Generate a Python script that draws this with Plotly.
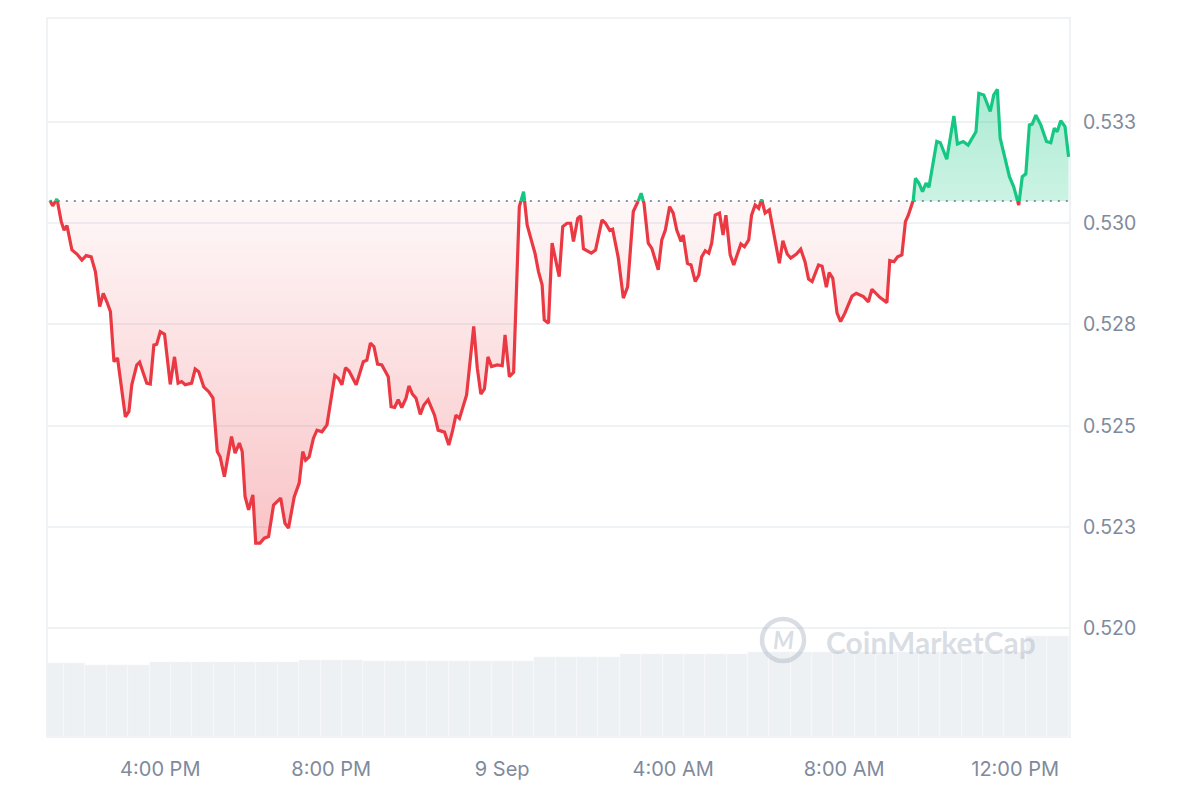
import numpy as np
import pandas as pd
import plotly.graph_objects as go

# ---------------- data ----------------
START = pd.Timestamp("2024-09-08 13:00")
# minutes after START for each price sample
minutes = [
    25, 29, 35, 41, 45, 49, 56, 63, 70, 76,
    83, 89, 95, 100, 105, 110, 115, 120, 131, 136,
    140, 147, 151, 161, 166, 171, 175, 180, 186, 194,
    200, 205, 210, 215, 224, 229, 234, 241, 248, 254,
    260, 264, 270, 280, 285, 291, 295, 299, 304, 310,
    314, 320, 326, 332, 339, 349, 355, 360, 368, 375,
    380, 384, 389, 395, 400, 407, 414, 425, 430, 435,
    440, 445, 455, 465, 470, 475, 480, 485, 491, 500,
    504, 509, 514, 519, 525, 529, 534, 539, 545, 550,
    556, 565, 570, 579, 585, 590, 595, 600, 610, 620,
    625, 630, 635, 640, 645, 653, 660, 664, 670, 676,
    684, 690, 695, 702, 706, 711, 716, 719, 725, 730,
    734, 740, 745, 751, 756, 760, 766, 770, 774, 785,
    791, 800, 805, 811, 815, 823, 830, 836, 844, 850,
    855, 859, 865, 870, 879, 884, 889, 895, 900, 905,
    911, 914, 920, 925, 931, 936, 940, 945, 950, 954,
    959, 965, 970, 974, 980, 985, 995, 1000, 1006, 1010,
    1015, 1020, 1024, 1029, 1035, 1042, 1046, 1049, 1054, 1060,
    1065, 1073, 1079, 1085, 1090, 1095, 1104, 1109, 1115, 1119,
    1124, 1130, 1135, 1141, 1151, 1157, 1167, 1174, 1179, 1190,
    1200, 1204, 1210, 1215, 1221, 1226, 1230, 1237, 1240, 1245,
    1250, 1255, 1259, 1270, 1275, 1284, 1294, 1299, 1307, 1314,
    1325, 1329, 1336, 1345, 1350, 1355, 1359, 1366, 1372, 1378,
    1385, 1390, 1395, 1400, 1404, 1409, 1416, 1424, 1430, 1435,
    1439, 1444, 1450, 1455,
]
prices = [
    0.53057, 0.53043, 0.53060, 0.53004, 0.52983, 0.52994, 0.52934, 0.52924, 0.52909, 0.52920,
    0.52917, 0.52880, 0.52794, 0.52827, 0.52806, 0.52782, 0.52658, 0.52667, 0.52522, 0.52535,
    0.52601, 0.52650, 0.52657, 0.52605, 0.52603, 0.52699, 0.52701, 0.52732, 0.52726, 0.52602,
    0.52670, 0.52605, 0.52609, 0.52601, 0.52605, 0.52640, 0.52633, 0.52596, 0.52584, 0.52568,
    0.52436, 0.52423, 0.52374, 0.52473, 0.52432, 0.52457, 0.52436, 0.52325, 0.52292, 0.52329,
    0.52210, 0.52210, 0.52222, 0.52226, 0.52304, 0.52321, 0.52259, 0.52247, 0.52324, 0.52358,
    0.52436, 0.52415, 0.52423, 0.52469, 0.52489, 0.52485, 0.52502, 0.52624, 0.52617, 0.52601,
    0.52643, 0.52635, 0.52601, 0.52658, 0.52662, 0.52704, 0.52695, 0.52652, 0.52650, 0.52621,
    0.52547, 0.52545, 0.52564, 0.52545, 0.52568, 0.52598, 0.52578, 0.52568, 0.52528, 0.52551,
    0.52564, 0.52526, 0.52489, 0.52484, 0.52452, 0.52485, 0.52526, 0.52518, 0.52576, 0.52745,
    0.52642, 0.52578, 0.52591, 0.52670, 0.52646, 0.52650, 0.52648, 0.52724, 0.52621, 0.52632,
    0.53041, 0.53078, 0.52996, 0.52951, 0.52926, 0.52880, 0.52848, 0.52761, 0.52753, 0.52951,
    0.52914, 0.52868, 0.52992, 0.53000, 0.53000, 0.52955, 0.53012, 0.53018, 0.52937, 0.52926,
    0.52934, 0.53008, 0.53000, 0.52982, 0.52985, 0.52914, 0.52815, 0.52843, 0.53029, 0.53051,
    0.53074, 0.53049, 0.52951, 0.52938, 0.52885, 0.52959, 0.52983, 0.53041, 0.53025, 0.52983,
    0.52955, 0.52971, 0.52901, 0.52897, 0.52856, 0.52872, 0.52917, 0.52932, 0.52926, 0.52951,
    0.53020, 0.53025, 0.52971, 0.53020, 0.52922, 0.52897, 0.52949, 0.52942, 0.52959, 0.53020,
    0.53045, 0.53037, 0.53059, 0.53025, 0.53033, 0.52963, 0.52922, 0.52901, 0.52957, 0.52924,
    0.52914, 0.52924, 0.52936, 0.52905, 0.52862, 0.52856, 0.52897, 0.52894, 0.52842, 0.52878,
    0.52864, 0.52778, 0.52757, 0.52778, 0.52820, 0.52827, 0.52819, 0.52806, 0.52837, 0.52817,
    0.52804, 0.52908, 0.52905, 0.52917, 0.52922, 0.53004, 0.53020, 0.53057, 0.53111, 0.53099,
    0.53078, 0.53099, 0.53089, 0.53202, 0.53199, 0.53158, 0.53265, 0.53196, 0.53202, 0.53193,
    0.53226, 0.53321, 0.53317, 0.53276, 0.53317, 0.53331, 0.53210, 0.53156, 0.53115, 0.53090,
    0.53045, 0.53115, 0.53122, 0.53243, 0.53245, 0.53267, 0.53243, 0.53202, 0.53199, 0.53235,
    0.53226, 0.53253, 0.53239, 0.53164,
]
reference_price = 0.53055  # opening price (dotted line)

# 30-minute volume bars (millions USD)
volume_times = pd.date_range("2024-09-08 13:30", periods=48, freq="30min")
volume_musd = [
    18.8, 18.8, 18.2, 18.2, 18.2, 19.0, 19.0, 19.0, 19.0, 19.0,
    19.0, 19.0, 19.6, 19.6, 19.6, 19.2, 19.2, 19.2, 19.2, 19.2,
    19.2, 19.2, 19.2, 20.3, 20.3, 20.3, 20.3, 21.1, 21.1, 21.1,
    21.1, 21.1, 21.1, 21.5, 21.5, 21.5, 21.5, 21.5, 21.5, 21.5,
    21.5, 21.5, 21.5, 21.5, 21.5, 21.5, 25.6, 25.6,
]

x_tick_vals = ["2024-09-08 16:00", "2024-09-08 20:00", "2024-09-09 00:00",
               "2024-09-09 04:00", "2024-09-09 08:00", "2024-09-09 12:00"]
x_tick_text = ["4:00 PM", "8:00 PM", "9 Sep", "4:00 AM", "8:00 AM", "12:00 PM"]
y_tick_vals = [0.520, 0.5225, 0.525, 0.5275, 0.530, 0.5325]
y_tick_text = ["0.520", "0.523", "0.525", "0.528", "0.530", "0.533"]

assert len(minutes) == len(prices)

# ---------------- styling ----------------
RED = "#ea3943"
GREEN = "#16c784"
TXT = "#808a9d"
GRID = "#eff2f5"
FONT = "Inter"


def split_at(ts, ps, base):
    """Insert crossing points where the polyline crosses the baseline."""
    t_out, p_out = [ts[0]], [ps[0]]
    for i in range(1, len(ps)):
        a, b = ps[i - 1], ps[i]
        if (a - base) * (b - base) < 0:
            f = (base - a) / (b - a)
            t_out.append(ts[i - 1] + f * (ts[i] - ts[i - 1]))
            p_out.append(base)
        t_out.append(ts[i])
        p_out.append(b)
    return np.array(t_out, dtype=float), np.array(p_out, dtype=float)


ta, pa = split_at(np.array(minutes, float), np.array(prices, float), reference_price)
times = START + pd.to_timedelta(ta, unit="min")
base_arr = [reference_price] * len(pa)
below = np.minimum(pa, reference_price)
above = np.maximum(pa, reference_price)
red_line = [p if p <= reference_price else None for p in pa]
green_line = [p if p >= reference_price else None for p in pa]

fig = go.Figure()

# volume bars
fig.add_trace(go.Bar(x=volume_times, y=volume_musd, yaxis="y2",
                     marker=dict(color="#eef1f4", line=dict(width=0.6, color="rgba(255,255,255,0.55)")),
                     hoverinfo="skip", showlegend=False))

# red area (below opening)
fig.add_trace(go.Scatter(x=times, y=base_arr, mode="lines", line=dict(width=0),
                         hoverinfo="skip", showlegend=False))
fig.add_trace(go.Scatter(x=times, y=below, mode="lines", line=dict(width=0),
                         fill="tonexty",
                         fillgradient=dict(type="vertical",
                                           colorscale=[[0, "rgba(234,57,67,0.30)"],
                                                       [1, "rgba(234,57,67,0.04)"]],
                                           start=min(prices), stop=reference_price),
                         hoverinfo="skip", showlegend=False))
# green area (above opening)
fig.add_trace(go.Scatter(x=times, y=base_arr, mode="lines", line=dict(width=0),
                         hoverinfo="skip", showlegend=False))
fig.add_trace(go.Scatter(x=times, y=above, mode="lines", line=dict(width=0),
                         fill="tonexty",
                         fillgradient=dict(type="vertical",
                                           colorscale=[[0, "rgba(22,199,132,0.22)"],
                                                       [1, "rgba(22,199,132,0.36)"]],
                                           start=reference_price, stop=max(prices)),
                         hoverinfo="skip", showlegend=False))

# dotted opening line
fig.add_trace(go.Scatter(x=[times[0], times[-1]], y=[reference_price, reference_price],
                         mode="lines", line=dict(color="#8a93a6", width=2, dash="2px,6px"),
                         hoverinfo="skip", showlegend=False))

# price lines
fig.add_trace(go.Scatter(x=times, y=red_line, mode="lines",
                         line=dict(color=RED, width=3.2), connectgaps=False,
                         showlegend=False))
fig.add_trace(go.Scatter(x=times, y=green_line, mode="lines",
                         line=dict(color=GREEN, width=3.2), connectgaps=False,
                         showlegend=False))

# plot border
fig.add_shape(type="rect", xref="paper", yref="paper", x0=0, x1=1, y0=0, y1=1,
              line=dict(color="#eceff3", width=1.5), layer="below")

# watermark
WM = "rgba(170,180,196,0.45)"
fig.add_shape(type="circle", xref="paper", yref="paper",
              xsizemode="pixel", ysizemode="pixel", xanchor=0.7195, yanchor=0.135,
              x0=-21, x1=21, y0=-21, y1=21, line=dict(color=WM, width=4.5))
fig.add_annotation(xref="paper", yref="paper", x=0.7195, y=0.135, text="<b><i>M</i></b>",
                   xanchor="center", yanchor="middle",
                   showarrow=False, font=dict(family="Lato", size=24, color=WM))
fig.add_annotation(xref="paper", yref="paper", x=0.864, y=0.132, text="<b>CoinMarketCap</b>",
                   xanchor="center", yanchor="middle",
                   showarrow=False, font=dict(family="Lato", size=30, color=WM))

fig.update_layout(
    width=1200, height=800,
    margin=dict(l=47, r=130, t=18, b=63),
    paper_bgcolor="white", plot_bgcolor="white",
    bargap=0,
    font=dict(family=FONT, size=19, color=TXT),
    xaxis=dict(type="date", range=["2024-09-08 13:21", "2024-09-09 13:17"],
               tickvals=x_tick_vals, ticktext=x_tick_text, showgrid=False,
               zeroline=False, showline=False, ticks="", ticklabelstandoff=18,
               tickfont=dict(family=FONT, size=20, color=TXT)),
    yaxis=dict(side="right", range=[0.51731, 0.53507], tickvals=y_tick_vals,
               ticktext=y_tick_text, showgrid=True, gridcolor=GRID, gridwidth=1.5,
               zeroline=False, showline=False, ticks="", ticklabelstandoff=12,
               tickfont=dict(family=FONT, size=19.5, color=TXT)),
    yaxis2=dict(overlaying="y", range=[0, 182], visible=False),
    showlegend=False,
    hovermode="x",
)

fig.write_html("out.html", config={"displayModeBar": False},
               post_script="document.body.style.margin='0';")
